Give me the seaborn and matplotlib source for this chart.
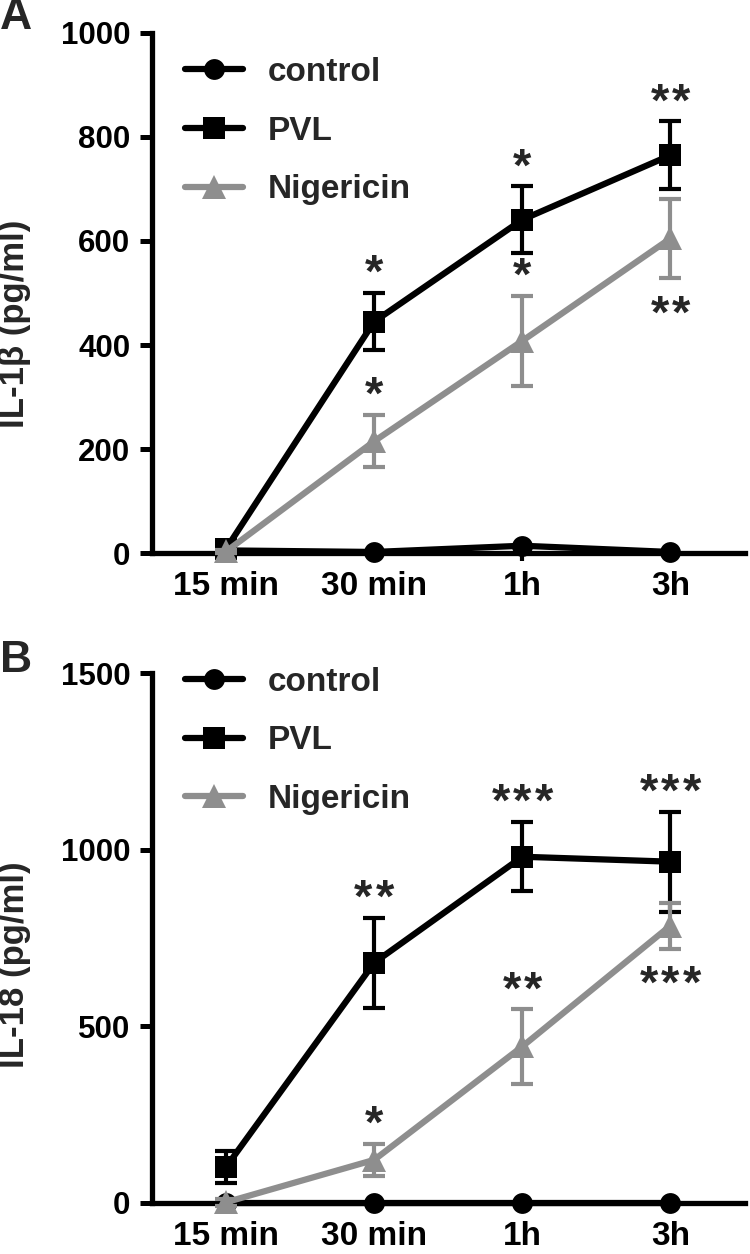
import matplotlib

matplotlib.use('Agg')

import numpy as np
import matplotlib.pyplot as plt
import seaborn as sns

# time points on the x axis
times = ['15 min', '30 min', '1h', '3h']

# panel A: IL-1beta (pg/ml), mean and error
il1b_control = [5, 2, 14, 2]
il1b_pvl = [8, 445, 641, 765]
il1b_pvl_err = [5, 55, 64, 65]
il1b_nig = [3, 215, 408, 605]
il1b_nig_err = [3, 50, 87, 76]
il1b_pvl_stars = ['', '*', '*', '**']
il1b_nig_stars = ['', '*', '*', '**']
il1b_nig_below = [False, False, False, True]

# panel B: IL-18 (pg/ml), mean and error
il18_control = [1, 1, 1, 1]
il18_pvl = [102, 680, 980, 966]
il18_pvl_err = [45, 128, 98, 142]
il18_nig = [2, 122, 443, 785]
il18_nig_err = [10, 45, 105, 65]
il18_pvl_stars = ['', '**', '***', '***']
il18_nig_stars = ['', '*', '**', '***']
il18_nig_below = [False, False, False, True]

GRAY = '#8e8e8e'

sns.set_style('ticks')
plt.rcParams['font.family'] = ['Liberation Sans', 'DejaVu Sans']
plt.rcParams['font.weight'] = 'bold'


def stars(ax, x, y, s, dy):
    # asterisks drawn one by one, a bit wider apart than the font spacing
    n = len(s)
    for k in range(n):
        ax.annotate('*', (x, y), xytext=((k - (n - 1) / 2) * 15.5, dy),
                    textcoords='offset points', ha='center', va='center',
                    fontsize=34, fontweight='bold')


def panel(ax, control, pvl, pvl_err, nig, nig_err, pvl_stars, nig_stars,
          nig_below, ymax, ystep, ylabel, label_y, leg_y):
    pos = np.arange(len(times))
    lw = 4.5
    sns.lineplot(x=pos, y=control, color='black', marker='o', markersize=15,
                 markeredgewidth=0, linewidth=lw, label='control', ax=ax,
                 clip_on=False, zorder=3)
    ax.errorbar(pos, pvl, yerr=pvl_err, fmt='none', ecolor='black',
                elinewidth=3, capsize=8, capthick=3, clip_on=False, zorder=4)
    sns.lineplot(x=pos, y=pvl, color='black', marker='s', markersize=16,
                 markeredgewidth=0, linewidth=lw, label='PVL', ax=ax,
                 clip_on=False, zorder=4)
    ax.errorbar(pos, nig, yerr=nig_err, fmt='none', ecolor=GRAY,
                elinewidth=3, capsize=8, capthick=3, clip_on=False, zorder=5)
    sns.lineplot(x=pos, y=nig, color=GRAY, marker='^', markersize=17,
                 markeredgewidth=0, linewidth=lw, label='Nigericin', ax=ax,
                 clip_on=False, zorder=5)

    # significance marks
    for i in pos:
        if pvl_stars[i]:
            stars(ax, i, pvl[i] + pvl_err[i], pvl_stars[i], 13)
        if nig_stars[i]:
            if nig_below[i]:
                stars(ax, i, nig[i] - nig_err[i], nig_stars[i], -27)
            else:
                stars(ax, i, nig[i] + nig_err[i], nig_stars[i], 13)

    ax.set_xlim(-0.5, 3.5)
    ax.set_ylim(0, ymax)
    ax.set_yticks(np.arange(0, ymax + 1, ystep))
    ax.set_xticks(pos)
    ax.set_xticklabels(times, fontsize=24, fontweight='bold')
    ax.tick_params(axis='y', labelsize=22.5, length=8.5, width=3.6, pad=7,
                   direction='out', colors='black')
    ax.tick_params(axis='x', length=6, width=3, pad=7, direction='out',
                   colors='black')
    for lab in ax.get_yticklabels():
        lab.set_fontweight('bold')
    sns.despine(ax=ax)
    for s in ['left', 'bottom']:
        ax.spines[s].set_linewidth(3.8)
        ax.spines[s].set_color('black')
    ax.set_ylabel(ylabel, fontsize=25, fontweight='bold')
    ax.yaxis.set_label_coords(-0.205, label_y)
    ax.set_xlabel('')

    ax.legend(loc='upper left', bbox_to_anchor=(0.055, leg_y), frameon=False,
              fontsize=24, handlelength=1.75, handletextpad=0.75,
              labelspacing=0.83, borderpad=0, borderaxespad=0, numpoints=1)


fig = plt.figure(figsize=(7.5, 12.54), dpi=100)
axA = fig.add_axes([0.2027, 0.559, 0.79, 0.4147])
axB = fig.add_axes([0.2027, 0.0407, 0.79, 0.4226])

panel(axA, il1b_control, il1b_pvl, il1b_pvl_err, il1b_nig, il1b_nig_err,
      il1b_pvl_stars, il1b_nig_stars, il1b_nig_below, 1000, 200,
      'IL-1\u03b2 (pg/ml)', 0.44, 0.954)
panel(axB, il18_control, il18_pvl, il18_pvl_err, il18_nig, il18_nig_err,
      il18_pvl_stars, il18_nig_stars, il18_nig_below, 1500, 500,
      'IL-18 (pg/ml)', 0.45, 1.012)

fig.text(0.0, 1.002, 'A', fontsize=32, fontweight='bold', va='top', ha='left')
fig.text(0.0, 0.4895, 'B', fontsize=32, fontweight='bold', va='top', ha='left')

fig.savefig('out.png', dpi=100)
